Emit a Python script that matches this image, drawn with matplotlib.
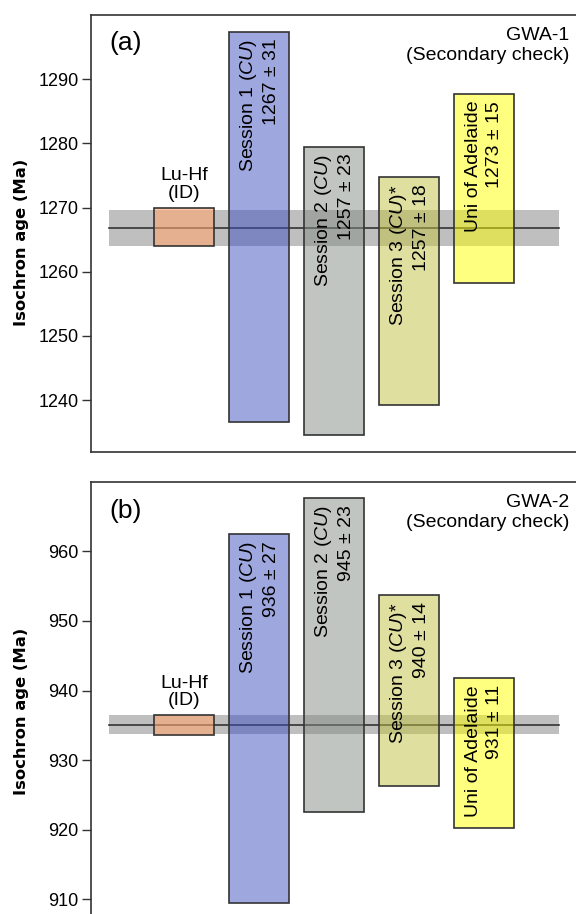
import matplotlib
matplotlib.use('Agg')
import matplotlib.pyplot as plt
from matplotlib.colors import to_rgba

plt.rcParams['font.family'] = ['Liberation Sans', 'DejaVu Sans']
plt.rcParams['mathtext.fontset'] = 'custom'
plt.rcParams['mathtext.rm'] = 'Liberation Sans'
plt.rcParams['mathtext.it'] = 'Liberation Sans:italic'

# box colours and their opacity
colors = ['#ffa671', '#4150c1', '#858d85', '#c1c141', '#ffff00']
alphas = [0.6, 0.5, 0.5, 0.5, 0.5]
pos = [1, 2, 3, 4, 5]

# panel (a) GWA-1
a_age = [1267, 1267, 1257, 1257, 1273]
a_err = [3.0, 30.4, 22.5, 17.7, 14.7]
a_lab = ['', 'Session 1 ($\\it{CU}$)\n1267 ± 31', 'Session 2 ($\\it{CU}$)\n1257 ± 23',
         'Session 3 ($\\it{CU}$)*\n1257 ± 18', 'Uni of Adelaide\n1273 ± 15']
a_ref, a_ref_err = 1266.8, 2.85

# panel (b) GWA-2
b_age = [935.05, 936, 945.1, 940, 931]
b_err = [1.45, 26.5, 22.5, 13.7, 10.8]
b_lab = ['', 'Session 1 ($\\it{CU}$)\n936 ± 27', 'Session 2 ($\\it{CU}$)\n945 ± 23',
         'Session 3 ($\\it{CU}$)*\n940 ± 14', 'Uni of Adelaide\n931 ± 11']
b_ref, b_ref_err = 935.1, 1.4

W, H = 576, 914
fig = plt.figure(figsize=(W / 100, H / 100), dpi=100)


def panel(rect_px, ylim, yticks, age, err, labs, ref, ref_err, tag, sample, bottom_spine):
    x0, top, bot = rect_px
    ax = fig.add_axes([x0 / W, 1 - bot / H, (W - x0) / W, (bot - top) / H])
    ax.set_xlim(-0.236, 6.222)
    ax.set_ylim(*ylim)
    ax.fill_between([0, 6], ref - ref_err, ref + ref_err, color='black', alpha=0.25, lw=0, zorder=1)
    ax.plot([0, 6], [ref, ref], color='#333333', lw=1.2, zorder=2)
    lo = [a - e for a, e in zip(age, err)]
    hi = [2 * e for e in err]
    ax.bar(pos, hi, bottom=lo, width=0.8, color=[to_rgba(c, al) for c, al in zip(colors, alphas)],
           edgecolor='#333333', lw=1.2, zorder=3)
    for p, a, e, t in zip(pos, age, err, labs):
        if t:
            ax.annotate(t, (p, a + e), xytext=(0, -5), textcoords='offset points',
                        rotation=90, ha='center', va='top', multialignment='right',
                        fontsize=14, linespacing=1.3, zorder=4)
    ax.annotate('Lu-Hf\n(ID)', (pos[0], age[0] + err[0]), xytext=(0, 4),
                textcoords='offset points', ha='center', va='bottom',
                multialignment='center', fontsize=14, linespacing=1.05)
    ax.text(0.037, 0.935, tag, transform=ax.transAxes, fontsize=19, va='center', ha='left')
    ax.text(0.9856, 0.972, sample + '\n(Secondary check)', transform=ax.transAxes,
            fontsize=14, ha='right', va='top', multialignment='right')
    ax.set_yticks(yticks)
    ax.set_xticks([])
    ax.spines['right'].set_visible(False)
    ax.spines['bottom'].set_visible(bottom_spine)
    for s in ax.spines.values():
        s.set_color('#333333')
        s.set_linewidth(1.2)
    ax.tick_params(axis='y', direction='out', length=6.5, width=1, color='#333333',
                   labelsize=13, pad=2.5)
    return ax


panel((91, 15, 452), (1231.9, 1300), range(1240, 1291, 10), a_age, a_err, a_lab,
      a_ref, a_ref_err, '(a)', 'GWA-1', True)
panel((91, 481.7, 930), (905.6, 970), range(910, 961, 10), b_age, b_err, b_lab,
      b_ref, b_ref_err, '(b)', 'GWA-2', False)

for yc in (242.5, 711.5):
    fig.text(22 / W, 1 - yc / H, 'Isochron age (Ma)', rotation=90, ha='center', va='center',
             fontsize=11.8, fontweight='bold', family='DejaVu Sans')

fig.savefig('out.png', dpi=100)
